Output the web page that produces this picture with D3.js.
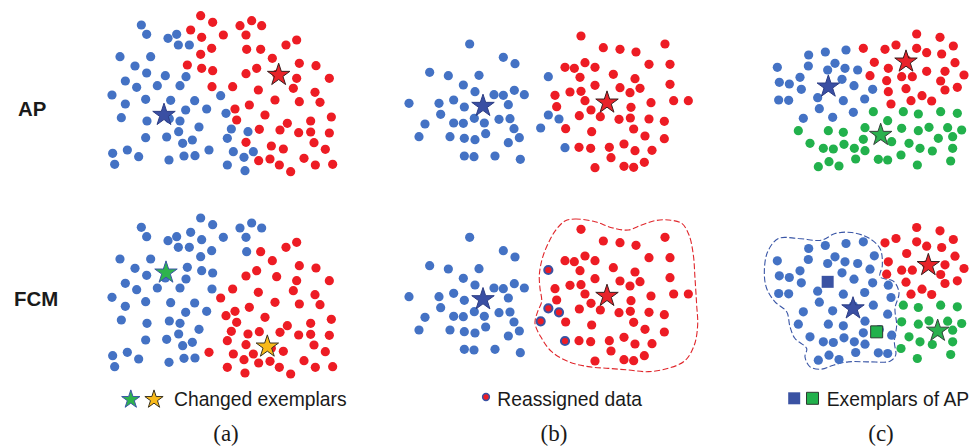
<!DOCTYPE html>
<html>
<head>
<meta charset="utf-8">
<script src="https://cdn.jsdelivr.net/npm/d3@7"></script>
<style>
  body { margin: 0; background: #fff; }
  svg { display: block; }
</style>
</head>
<body>
<script>
// ---------------- data ----------------
// Row and panel captions
const rowLabels = ["AP", "FCM"];
const panelLabels = ["(a)", "(b)", "(c)"];
const legendTexts = ["Changed exemplars", "Reassigned data", "Exemplars of AP"];

// Panel (a): [x, y, cluster under AP, cluster under FCM]
const pointsA = [
  [124,60,"b","b"],[140,88,"b","b"],[204,100,"b","b"],[230,88,"b","b"],[235,120,"b","b"],
  [268,120,"b","b"],[60,155,"b","b"],[152,155,"b","b"],[105,183,"b","b"],[140,204,"b","b"],
  [196,212,"b","b"],[258,215,"b","b"],[76,228,"b","b"],[110,247,"b","b"],[172,242,"b","b"],
  [240,242,"b","b"],[36,270,"b","b"],[76,297,"b","b"],[137,283,"b","b"],[212,286,"b","b"],
  [284,287,"b","b"],[362,272,"b","r"],[64,338,"b","b"],[141,348,"b","b"],[208,341,"b","b"],
  [257,315,"b","b"],[320,312,"b","b"],[240,348,"b","b"],[378,325,"b","r"],[297,366,"b","b"],
  [236,380,"b","b"],[394,372,"b","r"],[444,380,"b","r"],[137,398,"b","b"],[200,396,"b","b"],
  [248,415,"b","b"],[277,405,"b","b"],[382,400,"b","r"],[38,445,"b","b"],[82,435,"b","b"],
  [116,455,"b","b"],[207,465,"b","b"],[252,453,"b","b"],[285,452,"b","b"],[327,435,"b","r"],
  [400,440,"b","r"],[460,440,"b","r"],[432,457,"b","r"],[44,478,"b","b"],[382,480,"b","r"],
  [435,497,"b","r"],
  [302,32,"r","b"],[338,52,"r","b"],[272,75,"r","b"],[305,97,"r","b"],[370,90,"r","b"],
  [420,62,"r","b"],[455,47,"r","b"],[485,62,"r","b"],[438,90,"r","b"],[335,130,"r","b"],
  [302,148,"r","b"],[440,133,"r","b"],[482,133,"r","r"],[558,120,"r","r"],[590,105,"r","r"],
  [262,180,"r","b"],[305,190,"r","b"],[338,197,"r","b"],[517,160,"r","r"],[598,175,"r","r"],
  [648,182,"r","r"],[438,206,"r","r"],[470,190,"r","r"],[530,208,"r","r"],[590,220,"r","r"],
  [688,220,"r","r"],[336,245,"r","b"],[398,245,"r","r"],[475,255,"r","r"],[580,250,"r","r"],
  [645,262,"r","r"],[525,285,"r","r"],[448,300,"r","r"],[598,290,"r","r"],[660,292,"r","r"],
  [405,312,"r","r"],[410,345,"r","r"],[495,330,"r","r"],[562,355,"r","r"],[632,348,"r","r"],
  [694,336,"r","r"],[478,373,"r","r"],[540,375,"r","r"],[596,383,"r","r"],[632,381,"r","r"],
  [688,384,"r","r"],[438,412,"r","r"],[514,423,"r","r"],[550,432,"r","r"],[642,413,"r","r"],
  [676,433,"r","r"],[476,467,"r","r"],[510,462,"r","r"],[538,480,"r","r"],[612,460,"r","r"],
  [646,480,"r","r"],[698,478,"r","r"],[572,500,"r","r"]
];

// Panel (b): "m" marks a point reassigned to the red cluster
const pointsB = [
  [224,42,"b","b"],[325,82,"b","b"],[360,101,"b","b"],[104,127,"b","b"],[160,137,"b","b"],
  [252,136,"b","b"],[460,140,"b","m"],[205,165,"b","b"],[240,185,"b","b"],[297,194,"b","b"],
  [325,196,"b","b"],[358,181,"b","b"],[388,194,"b","b"],[42,220,"b","b"],[132,220,"b","b"],
  [176,210,"b","b"],[208,231,"b","b"],[340,224,"b","b"],[137,253,"b","b"],[460,255,"b","m"],
  [492,267,"b","m"],[176,279,"b","b"],[205,280,"b","b"],[238,265,"b","b"],[268,279,"b","b"],
  [312,268,"b","b"],[345,266,"b","b"],[90,282,"b","b"],[437,294,"b","m"],[357,296,"b","b"],
  [72,320,"b","b"],[165,320,"b","b"],[208,325,"b","b"],[240,329,"b","b"],[272,311,"b","b"],
  [373,323,"b","b"],[340,338,"b","b"],[510,353,"b","m"],[208,378,"b","b"],[237,380,"b","b"],
  [300,378,"b","b"],[376,388,"b","b"],
  [558,18,"r","r"],[810,42,"r","r"],[625,53,"r","r"],[675,58,"r","r"],[723,66,"r","r"],
  [570,98,"r","r"],[510,112,"r","r"],[538,115,"r","r"],[600,112,"r","r"],[762,103,"r","r"],
  [825,103,"r","r"],[555,142,"r","r"],[655,133,"r","r"],[720,146,"r","r"],[600,166,"r","r"],
  [480,196,"r","r"],[525,186,"r","r"],[558,184,"r","r"],[675,173,"r","r"],[705,188,"r","r"],
  [735,175,"r","r"],[825,163,"r","r"],[570,212,"r","r"],[485,230,"r","r"],[588,240,"r","r"],
  [768,218,"r","r"],[836,212,"r","r"],[880,212,"r","r"],[553,257,"r","r"],[616,260,"r","r"],
  [672,268,"r","r"],[706,264,"r","r"],[708,232,"r","r"],[762,267,"r","r"],[808,274,"r","r"],
  [512,296,"r","r"],[590,305,"r","r"],[716,297,"r","r"],[750,318,"r","r"],[808,326,"r","r"],
  [552,352,"r","r"],[587,355,"r","r"],[643,352,"r","r"],[687,342,"r","r"],[720,362,"r","r"],
  [771,361,"r","r"],[648,383,"r","r"],[748,397,"r","r"],[600,413,"r","r"],[687,409,"r","r"],
  [716,412,"r","r"]
];

// Panel (c)
const pointsC = [
  [146,75,"b","b"],[196,66,"b","b"],[258,60,"b","b"],[52,112,"b","b"],[145,108,"b","b"],
  [225,100,"b","b"],[203,120,"b","b"],[255,115,"b","b"],[293,120,"b","b"],[120,142,"b","b"],
  [58,157,"b","b"],[88,162,"b","b"],[246,148,"b","b"],[124,178,"b","b"],[282,167,"b","b"],
  [338,178,"b","b"],[56,210,"b","b"],[86,211,"b","b"],[173,203,"b","b"],[250,212,"b","b"],
  [314,207,"b","b"],[178,236,"b","b"],[280,247,"b","b"],[130,265,"b","b"],[218,262,"b","b"],
  [204,172,"b","b"],
  [470,12,"r","r"],[540,22,"r","r"],[310,55,"r","b"],[375,58,"r","r"],[408,45,"r","r"],
  [470,55,"r","r"],[580,48,"r","r"],[500,68,"r","r"],[545,72,"r","r"],[343,97,"r","b"],
  [385,115,"r","r"],[585,98,"r","r"],[330,137,"r","b"],[425,140,"r","r"],[457,140,"r","r"],
  [500,124,"r","r"],[555,124,"r","r"],[612,135,"r","r"],[380,152,"r","r"],[542,153,"r","r"],
  [438,176,"r","r"],[555,180,"r","r"],[592,172,"r","r"],[385,185,"r","b"],[486,197,"r","r"],
  [453,212,"r","r"],[515,213,"r","r"],[393,222,"r","b"],[440,90,"r","r"],
  [340,245,"g","b"],[430,245,"g","g"],[475,252,"g","g"],[542,245,"g","g"],[592,250,"g","g"],
  [383,272,"g","b"],[115,302,"g","b"],[205,302,"g","b"],[250,307,"g","b"],[315,293,"g","b"],
  [425,295,"g","g"],[475,302,"g","g"],[507,292,"g","g"],[563,293,"g","g"],[605,300,"g","g"],
  [150,340,"g","b"],[310,328,"g","b"],[395,335,"g","b"],[447,340,"g","g"],[535,325,"g","g"],
  [578,320,"g","g"],[190,355,"g","b"],[220,357,"g","b"],[252,343,"g","b"],[283,355,"g","b"],
  [315,362,"g","b"],[480,355,"g","g"],[517,363,"g","g"],[578,355,"g","g"],[287,387,"g","b"],
  [355,388,"g","b"],[383,390,"g","b"],[423,375,"g","g"],[207,395,"g","b"],[175,410,"g","b"],
  [237,408,"g","b"],[472,405,"g","g"],[572,393,"g","g"],[358,318,"g","b"]
];

// Exemplars (stars) and AP exemplars kept as squares in the FCM result
const starsA_AP  = [[192,330,"b"],[536,210,"r"]];
const starsA_FCM = [[198,196,"gb"],[502,418,"y"]];
const starsB_AP  = [[264,228,"b"],[636,218,"r"]];
const starsB_FCM = [[264,228,"b"],[636,218,"r"]];
const starsC_AP  = [[205,170,"b"],[438,95,"r"],[362,315,"g"]];
const starsC_FCM = [[279,255,"b"],[505,125,"r"],[533,322,"g"]];
const squaresC_FCM = [[203,175,"b"],[350,325,"g"]];

// Cluster boundaries drawn around the FCM clusters
const outlineB = [
  [510,-7],[540,-13],[600,-5],[650,13],[700,20],[740,5],[780,-8],[820,-10],[860,0],[882,35],
  [895,95],[900,165],[905,245],[908,305],[898,365],[870,412],[820,435],[760,445],[700,440],
  [640,435],[580,430],[520,415],[470,385],[440,345],[420,300],[428,265],[440,235],[435,195],
  [433,155],[442,105],[462,55],[484,18]
];
const outlineC = [
  [55,45],[115,45],[185,50],[225,30],[275,27],[325,43],[360,75],[367,125],[360,160],
  [400,173],[417,207],[405,255],[410,305],[403,355],[407,395],[390,413],[325,415],[265,415],
  [220,425],[185,437],[150,430],[135,400],[140,375],[105,345],[90,310],[80,265],[45,235],
  [20,195],[13,145],[23,85]
];

// ---------------- styles ----------------
const dotColor = { b: "#4472C4", r: "#ED1C24", g: "#22B14C" };
const starStyle = {
  b:  { fill: "#3A4FA3", stroke: "#2C3D85" },
  r:  { fill: "#E8232A", stroke: "#3A1E1E" },
  g:  { fill: "#2AB04E", stroke: "#34423A" },
  gb: { fill: "#2EB34D", stroke: "#3A56A6" },
  y:  { fill: "#F9BA1A", stroke: "#3A3320" }
};
const squareStyle = {
  b: { fill: "#3A52A3", stroke: "none" },
  g: { fill: "#22B14C", stroke: "#2D3A30" }
};

const W = 971, H = 447;
const svg = d3.select("body").append("svg").attr("width", W).attr("height", H);

const panels = [
  { pts: pointsA, w: 735, h: 540, left: 100, tops: [5, 207.33],
    stars: [starsA_AP, starsA_FCM], squares: [[], []], outline: [null, null] },
  { pts: pointsB, w: 930, h: 450, left: 395, tops: [30, 223.33],
    stars: [starsB_AP, starsB_FCM], squares: [[], []],
    outline: [null, { pts: outlineB, color: "#E0262B" }] },
  { pts: pointsC, w: 615, h: 450, left: 760, tops: [30, 223.5],
    stars: [starsC_AP, starsC_FCM], squares: [[], squaresC_FCM],
    outline: [null, { pts: outlineC, color: "#3A56A6" }] }
];

const starR = 11.8, dotR = 4.6, sq = 12;
const starPath = d3.symbol().type(d3.symbolStar).size(starR * starR / 0.8908130915292852)();
const squarePath = d3.symbol().type(d3.symbolSquare).size(sq * sq)();

panels.forEach(p => {
  const x = d3.scaleLinear().domain([0, p.w]).range([p.left, p.left + p.w / 3]);
  [0, 1].forEach(row => {
    const y = d3.scaleLinear().domain([0, p.h]).range([p.tops[row], p.tops[row] + p.h / 3]);
    const g = svg.append("g");

    const ol = p.outline[row];
    if (ol) {
      const line = d3.line().x(d => x(d[0])).y(d => y(d[1]))
        .curve(d3.curveCatmullRomClosed.alpha(0.5));
      g.append("path").attr("d", line(ol.pts))
        .attr("fill", "none").attr("stroke", ol.color)
        .attr("stroke-width", 1.1).attr("stroke-dasharray", "6,2.5");
    }

    const ci = row === 0 ? 2 : 3;
    g.selectAll("circle.pt").data(p.pts).join("circle")
      .attr("class", "pt")
      .attr("cx", d => x(d[0])).attr("cy", d => y(d[1]))
      .attr("r", d => d[ci] === "m" ? 4.1 : dotR)
      .attr("fill", d => d[ci] === "m" ? dotColor.r : dotColor[d[ci]])
      .attr("stroke", d => d[ci] === "m" ? "#3A52A3" : "none")
      .attr("stroke-width", d => d[ci] === "m" ? 2 : 0);

    g.selectAll("path.sq").data(p.squares[row]).join("path")
      .attr("class", "sq").attr("d", squarePath)
      .attr("transform", d => `translate(${x(d[0])},${y(d[1])})`)
      .attr("fill", d => squareStyle[d[2]].fill)
      .attr("stroke", d => squareStyle[d[2]].stroke).attr("stroke-width", 1);

    g.selectAll("path.star").data(p.stars[row]).join("path")
      .attr("class", "star").attr("d", starPath)
      .attr("transform", d => `translate(${x(d[0])},${y(d[1])})`)
      .attr("fill", d => starStyle[d[2]].fill)
      .attr("stroke", d => starStyle[d[2]].stroke).attr("stroke-width", 1);
  });
});

// Row labels
svg.selectAll("text.row").data(rowLabels).join("text")
  .attr("class", "row")
  .attr("x", (d, i) => i === 0 ? 18 : 14)
  .attr("y", (d, i) => i === 0 ? 116 : 306)
  .attr("font-family", "'Liberation Sans', Arial, sans-serif")
  .attr("font-weight", "bold").attr("font-size", 20.4).attr("fill", "#1a1a1a")
  .text(d => d);

// Legends
const legendFont = "'Liberation Sans', Arial, sans-serif";
const lg = svg.append("g");
const smallStar = d3.symbol().type(d3.symbolStar).size(9.6 * 9.6 / 0.8908130915292852)();
[[130.8, "gb"], [154, "y"]].forEach(([cx, k]) => {
  lg.append("path").attr("d", smallStar)
    .attr("transform", `translate(${cx},399.5)`)
    .attr("fill", starStyle[k].fill).attr("stroke", starStyle[k].stroke).attr("stroke-width", 1);
});
lg.append("circle").attr("cx", 486).attr("cy", 397).attr("r", 3.4)
  .attr("fill", dotColor.r).attr("stroke", "#3A52A3").attr("stroke-width", 1.5);
lg.append("path").attr("d", squarePath).attr("transform", "translate(794.2,398.3)")
  .attr("fill", squareStyle.b.fill);
lg.append("path").attr("d", squarePath).attr("transform", "translate(812.5,398.3)")
  .attr("fill", squareStyle.g.fill).attr("stroke", squareStyle.g.stroke).attr("stroke-width", 1);

const legendX = [174, 497.3, 826.7];
lg.selectAll("text").data(legendTexts).join("text")
  .attr("x", (d, i) => legendX[i]).attr("y", 405.6)
  .attr("font-family", legendFont).attr("font-size", 19.3).attr("fill", "#1a1a1a")
  .text(d => d);

// Panel captions
const captionX = [226, 554, 881];
svg.selectAll("text.cap").data(panelLabels).join("text")
  .attr("class", "cap")
  .attr("x", (d, i) => captionX[i]).attr("y", 441)
  .attr("text-anchor", "middle")
  .attr("font-family", "'Liberation Serif', 'Times New Roman', serif")
  .attr("font-size", 23).attr("fill", "#1a1a1a")
  .text(d => d);
</script>
</body>
</html>
